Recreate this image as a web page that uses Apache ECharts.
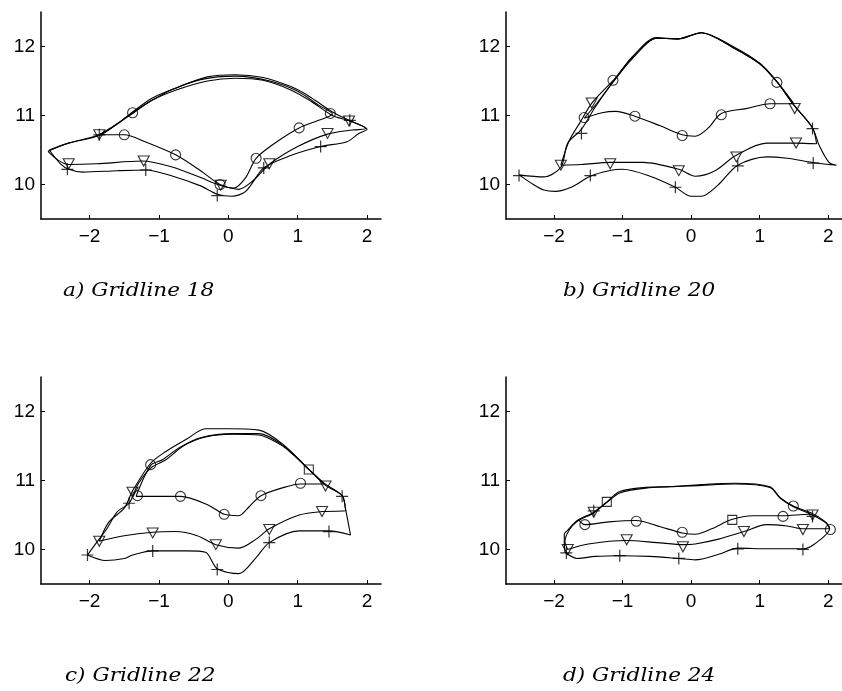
<!DOCTYPE html>
<html>
<head>
<meta charset="utf-8">
<script src="https://cdn.jsdelivr.net/npm/echarts@6/dist/echarts.min.js"></script>
<style>html,body{margin:0;padding:0;background:#fff}#c{width:842px;height:691px}</style>
</head>
<body>
<div id="c"></div>
<script>
// ---------- tick labels ----------
var xTicks = [-2, -1, 0, 1, 2];
var yTicks = [10, 11, 12];
var titles = ['a) Gridline 18', 'b) Gridline 20', 'c) Gridline 22', 'd) Gridline 24'];

// ---------- Panel a: Gridline 18 ----------
var a_plus = [[-2.58,10.5],[-2.42,10.3],[-2.3,10.22],[-2.1,10.18],[-1.6,10.2],[-1.19,10.21],[-0.8,10.12],[-0.4,9.98],[-0.16,9.86],[0.05,9.83],[0.25,9.9],[0.51,10.24],[0.9,10.42],[1.33,10.55],[1.71,10.62],[1.88,10.74],[2.0,10.8],[1.75,10.92],[1.5,11.0],[1.2,11.2],[0.9,11.37],[0.5,11.51],[0.1,11.54],[-0.3,11.5],[-0.75,11.37],[-1.1,11.22],[-1.38,11.03],[-1.6,10.88],[-1.86,10.71],[-2.3,10.6],[-2.58,10.5]];
var a_tri = [[-2.6,10.48],[-2.45,10.35],[-2.3,10.29],[-1.9,10.3],[-1.24,10.34],[-0.8,10.25],[-0.4,10.1],[-0.12,9.99],[0.15,9.93],[0.35,10.05],[0.6,10.3],[1.0,10.55],[1.43,10.73],[1.79,10.79],[1.98,10.81],[1.74,10.93],[1.5,11.05],[1.25,11.22],[1.1,11.32],[0.9,11.42],[0.5,11.55],[0.1,11.59],[-0.3,11.56],[-0.75,11.4],[-1.1,11.25],[-1.38,11.05],[-1.6,10.88],[-1.86,10.72],[-2.3,10.6],[-2.6,10.48]];
var a_o = [[-1.86,10.72],[-1.5,10.72],[-1.2,10.62],[-0.76,10.43],[-0.4,10.2],[-0.12,10.0],[0.08,9.95],[0.25,10.1],[0.4,10.38],[0.7,10.62],[1.02,10.82],[1.3,10.93],[1.5,11.02],[1.3,11.15],[1.0,11.35],[0.6,11.5],[0.1,11.57],[-0.4,11.52],[-0.8,11.38],[-1.1,11.22],[-1.38,11.04],[-1.6,10.88],[-1.86,10.72]];
var a_oMk = [[-1.38,11.04],[-1.5,10.72],[-0.76,10.43],[-0.12,10.0],[0.4,10.38],[1.02,10.82],[1.47,11.03]];
var a_triMk = [[-2.3,10.3],[-1.86,10.72],[-1.22,10.34],[-0.11,9.99],[0.59,10.3],[1.43,10.74],[1.74,10.92]];
var a_plusMk = [[-2.32,10.22],[-1.86,10.72],[-1.19,10.21],[-0.16,9.84],[0.51,10.24],[1.33,10.55],[1.75,10.93]];
var a_sqMk = [];

// ---------- Panel b: Gridline 20 ----------
var b_plus = [[-2.51,10.14],[-2.3,10.0],[-2.15,9.92],[-1.98,9.9],[-1.75,9.96],[-1.47,10.12],[-1.2,10.2],[-1.0,10.22],[-0.6,10.12],[-0.23,9.96],[0.0,9.83],[0.15,9.83],[0.39,9.99],[0.68,10.28],[1.1,10.4],[1.4,10.38],[1.77,10.32],[2.12,10.28],[2.01,10.32],[1.87,10.56],[1.77,10.82],[1.49,11.16],[1.25,11.49],[1.01,11.75],[0.63,11.99],[0.15,12.2],[-0.18,12.11],[-0.51,12.13],[-0.85,11.85],[-1.13,11.5],[-1.4,11.12],[-1.6,10.8],[-1.8,10.6],[-1.9,10.25],[-2.15,10.11],[-2.51,10.14]];
var b_tri = [[-1.9,10.28],[-1.6,10.29],[-1.18,10.32],[-0.7,10.32],[-0.18,10.22],[0.06,10.12],[0.35,10.2],[0.65,10.42],[1.1,10.6],[1.53,10.6],[1.83,10.59],[1.77,10.82],[1.5,11.15],[1.25,11.49],[1.0,11.75],[0.6,11.99],[0.15,12.2],[-0.2,12.11],[-0.5,12.12],[-0.85,11.86],[-1.1,11.55],[-1.44,11.19],[-1.62,10.9],[-1.78,10.63],[-1.9,10.28]];
var b_o = [[-1.56,10.96],[-1.3,11.04],[-1.1,11.06],[-0.82,10.99],[-0.45,10.85],[-0.13,10.72],[0.06,10.7],[0.25,10.82],[0.44,11.03],[0.8,11.1],[1.15,11.17],[1.5,11.17],[1.25,11.49],[1.0,11.75],[0.6,11.99],[0.15,12.2],[-0.2,12.11],[-0.5,12.12],[-0.85,11.83],[-1.15,11.47],[-1.38,11.17],[-1.56,10.96]];
var b_oMk = [[-1.56,10.97],[-1.14,11.51],[-0.82,10.99],[-0.13,10.71],[0.44,11.01],[1.15,11.17],[1.25,11.48]];
var b_triMk = [[-1.9,10.28],[-1.45,11.18],[-1.18,10.3],[-0.18,10.2],[0.66,10.4],[1.53,10.6],[1.51,11.1]];
var b_plusMk = [[-2.51,10.13],[-1.6,10.74],[-1.47,10.13],[-0.23,9.96],[0.68,10.27],[1.77,10.81],[1.78,10.31]];
var b_sqMk = [];

// ---------- Panel c: Gridline 22 ----------
var c_plus = [[-2.03,9.92],[-1.77,9.84],[-1.5,9.87],[-1.38,9.92],[-1.09,9.98],[-0.6,9.98],[-0.33,9.96],[-0.16,9.72],[0.15,9.65],[0.39,9.87],[0.59,10.1],[1.02,10.27],[1.45,10.27],[1.76,10.21],[1.69,10.58],[1.64,10.78],[1.38,10.96],[1.16,11.16],[0.95,11.36],[0.75,11.52],[0.44,11.66],[0.06,11.67],[-0.33,11.63],[-0.65,11.5],[-0.9,11.3],[-1.12,11.18],[-1.3,10.95],[-1.43,10.67],[-1.6,10.55],[-1.75,10.3],[-1.9,10.1],[-2.03,9.92]];
var c_tri = [[-1.86,10.12],[-1.5,10.2],[-1.09,10.25],[-0.76,10.26],[-0.45,10.2],[-0.18,10.07],[0.15,10.02],[0.4,10.15],[0.59,10.3],[1.02,10.5],[1.35,10.55],[1.69,10.56],[1.64,10.78],[1.4,10.93],[1.16,11.16],[0.78,11.53],[0.44,11.73],[0.0,11.75],[-0.33,11.75],[-0.6,11.6],[-0.9,11.42],[-1.12,11.25],[-1.38,10.85],[-1.5,10.6],[-1.72,10.4],[-1.86,10.12]];
var c_o = [[-1.33,10.77],[-1.0,10.77],[-0.69,10.77],[-0.3,10.65],[-0.06,10.51],[0.15,10.49],[0.3,10.62],[0.47,10.78],[0.8,10.9],[1.04,10.95],[1.38,10.95],[1.16,11.16],[0.8,11.5],[0.44,11.68],[0.06,11.68],[-0.4,11.62],[-0.7,11.48],[-0.95,11.3],[-1.12,11.22],[-1.33,10.77]];
var c_oMk = [[-1.12,11.23],[-1.31,10.78],[-0.69,10.77],[-0.06,10.51],[0.47,10.78],[1.04,10.96]];
var c_triMk = [[-1.38,10.83],[-1.86,10.12],[-1.09,10.24],[-0.18,10.07],[0.59,10.29],[1.35,10.55],[1.4,10.92]];
var c_plusMk = [[-2.03,9.92],[-1.43,10.67],[-1.09,9.98],[-0.16,9.71],[0.59,10.1],[1.45,10.26],[1.64,10.77]];
var c_sqMk = [[1.16,11.16]];

// ---------- Panel d: Gridline 24 ----------
var d_plus = [[-1.84,9.96],[-1.66,9.87],[-1.4,9.9],[-1.04,9.91],[-0.6,9.9],[-0.18,9.87],[0.06,9.85],[0.4,9.93],[0.68,10.02],[1.1,10.01],[1.63,10.01],[1.8,10.08],[2.02,10.3],[1.96,10.4],[1.77,10.52],[1.49,10.63],[1.3,10.75],[1.15,10.91],[0.63,10.96],[0.15,10.94],[-0.3,10.91],[-0.66,10.9],[-1.04,10.84],[-1.23,10.69],[-1.42,10.54],[-1.66,10.42],[-1.8,10.28],[-1.85,10.22],[-1.85,10.1],[-1.84,9.96]];
var d_tri = [[-1.8,10.0],[-1.5,10.08],[-0.94,10.13],[-0.5,10.1],[-0.11,10.07],[0.06,10.08],[0.4,10.15],[0.77,10.26],[1.1,10.36],[1.4,10.34],[1.63,10.3],[2.02,10.3],[1.96,10.39],[1.77,10.5],[1.49,10.62],[1.3,10.74],[1.15,10.9],[0.63,10.95],[0.15,10.93],[-0.66,10.89],[-1.04,10.82],[-1.23,10.68],[-1.42,10.53],[-1.66,10.41],[-1.78,10.28],[-1.84,10.12],[-1.8,10.0]];
var d_o = [[-1.64,10.43],[-1.55,10.36],[-1.2,10.4],[-0.8,10.42],[-0.45,10.33],[-0.13,10.24],[0.06,10.22],[0.3,10.3],[0.58,10.43],[0.9,10.49],[1.34,10.49],[1.72,10.51],[1.77,10.5]];
var d_oMk = [[-1.55,10.36],[-0.8,10.41],[-0.13,10.25],[1.34,10.48],[1.49,10.63],[2.03,10.29]];
var d_triMk = [[-1.8,10.0],[-1.42,10.54],[-0.94,10.14],[-0.12,10.04],[0.77,10.26],[1.63,10.29],[1.77,10.5]];
var d_plusMk = [[-1.82,9.95],[-1.42,10.56],[-1.04,9.91],[-0.18,9.87],[0.68,10.01],[1.63,10.0],[1.77,10.48]];
var d_sqMk = [[-1.23,10.69],[0.6,10.43]];

var panels = [
  {loops: [a_plus, a_tri, a_o], o: a_oMk, tri: a_triMk, plus: a_plusMk, sq: a_sqMk},
  {loops: [b_plus, b_tri, b_o], o: b_oMk, tri: b_triMk, plus: b_plusMk, sq: b_sqMk},
  {loops: [c_plus, c_tri, c_o], o: c_oMk, tri: c_triMk, plus: c_plusMk, sq: c_sqMk},
  {loops: [d_plus, d_tri, d_o], o: d_oMk, tri: d_triMk, plus: d_plusMk, sq: d_sqMk}
];

// ---------- layout ----------
var gridPos = [
  {left: 41, top: 12}, {left: 506, top: 12},
  {left: 41, top: 377}, {left: 506, top: 377}
];
var titlePos = [[63, 291], [563, 291], [65, 676], [563, 676]];

var fmt = function (v) { return v < 0 ? '\u2212' + Math.abs(v) : String(v); };
var PLUS = 'path://M4.5,0H5.5V4.5H10V5.5H5.5V10H4.5V5.5H0V4.5H4.5Z';
var TRI = 'path://M0,0L10,0L5,9Z';

var grids = [], xAxes = [], yAxes = [], series = [], graphics = [];
gridPos.forEach(function (g, i) {
  grids.push({left: g.left, top: g.top, width: 340, height: 207, containLabel: false});
  var axisCommon = {
    axisLine: {show: true, onZero: false, lineStyle: {color: '#000', width: 1.5}},
    splitLine: {show: false}
  };
  xAxes.push(Object.assign({
    type: 'value', gridIndex: i, min: -2.7, max: 2.2,
    axisTick: {show: true, inside: true, length: 4, customValues: xTicks, lineStyle: {color: '#000', width: 1}},
    axisLabel: {customValues: xTicks, formatter: fmt, color: '#000', fontSize: 19, fontFamily: 'Liberation Sans', margin: 8}
  }, axisCommon));
  yAxes.push(Object.assign({
    type: 'value', gridIndex: i, min: 9.5, max: 12.5,
    axisTick: {show: true, inside: true, length: 4, customValues: yTicks, lineStyle: {color: '#000', width: 1}},
    axisLabel: {customValues: yTicks, formatter: fmt, color: '#000', fontSize: 19, fontFamily: 'Liberation Sans', margin: 6}
  }, axisCommon));

  var p = panels[i];
  p.loops.forEach(function (loop) {
    series.push({
      type: 'line', xAxisIndex: i, yAxisIndex: i, data: loop,
      smooth: 0.3, showSymbol: false, symbol: 'none', silent: true,
      lineStyle: {color: '#000', width: 1.1}
    });
  });
  var mk = function (data, symbol, size, filled) {
    series.push({
      type: 'scatter', xAxisIndex: i, yAxisIndex: i, data: data,
      symbol: symbol, symbolSize: size, silent: true,
      itemStyle: filled ? {color: '#000', borderWidth: 0} :
        {color: 'rgba(255,255,255,0)', borderColor: '#000', borderWidth: 1.1}
    });
  };
  mk(p.o, 'circle', 10, false);
  mk(p.tri, TRI, [11, 10], false);
  mk(p.sq, 'rect', 9, false);
  mk(p.plus, PLUS, 12, true);

  graphics.push({
    type: 'text', x: titlePos[i][0], y: titlePos[i][1], scaleX: 1.2,
    style: {text: titles[i], fontStyle: 'italic', fontSize: 18, fontFamily: 'DejaVu Serif',
            fill: '#000', align: 'left', verticalAlign: 'middle'}
  });
});

var chart = echarts.init(document.getElementById('c'), null, {renderer: 'canvas'});
chart.setOption({
  animation: false,
  backgroundColor: '#fff',
  grid: grids, xAxis: xAxes, yAxis: yAxes, series: series,
  graphic: graphics
});
</script>
</body>
</html>
